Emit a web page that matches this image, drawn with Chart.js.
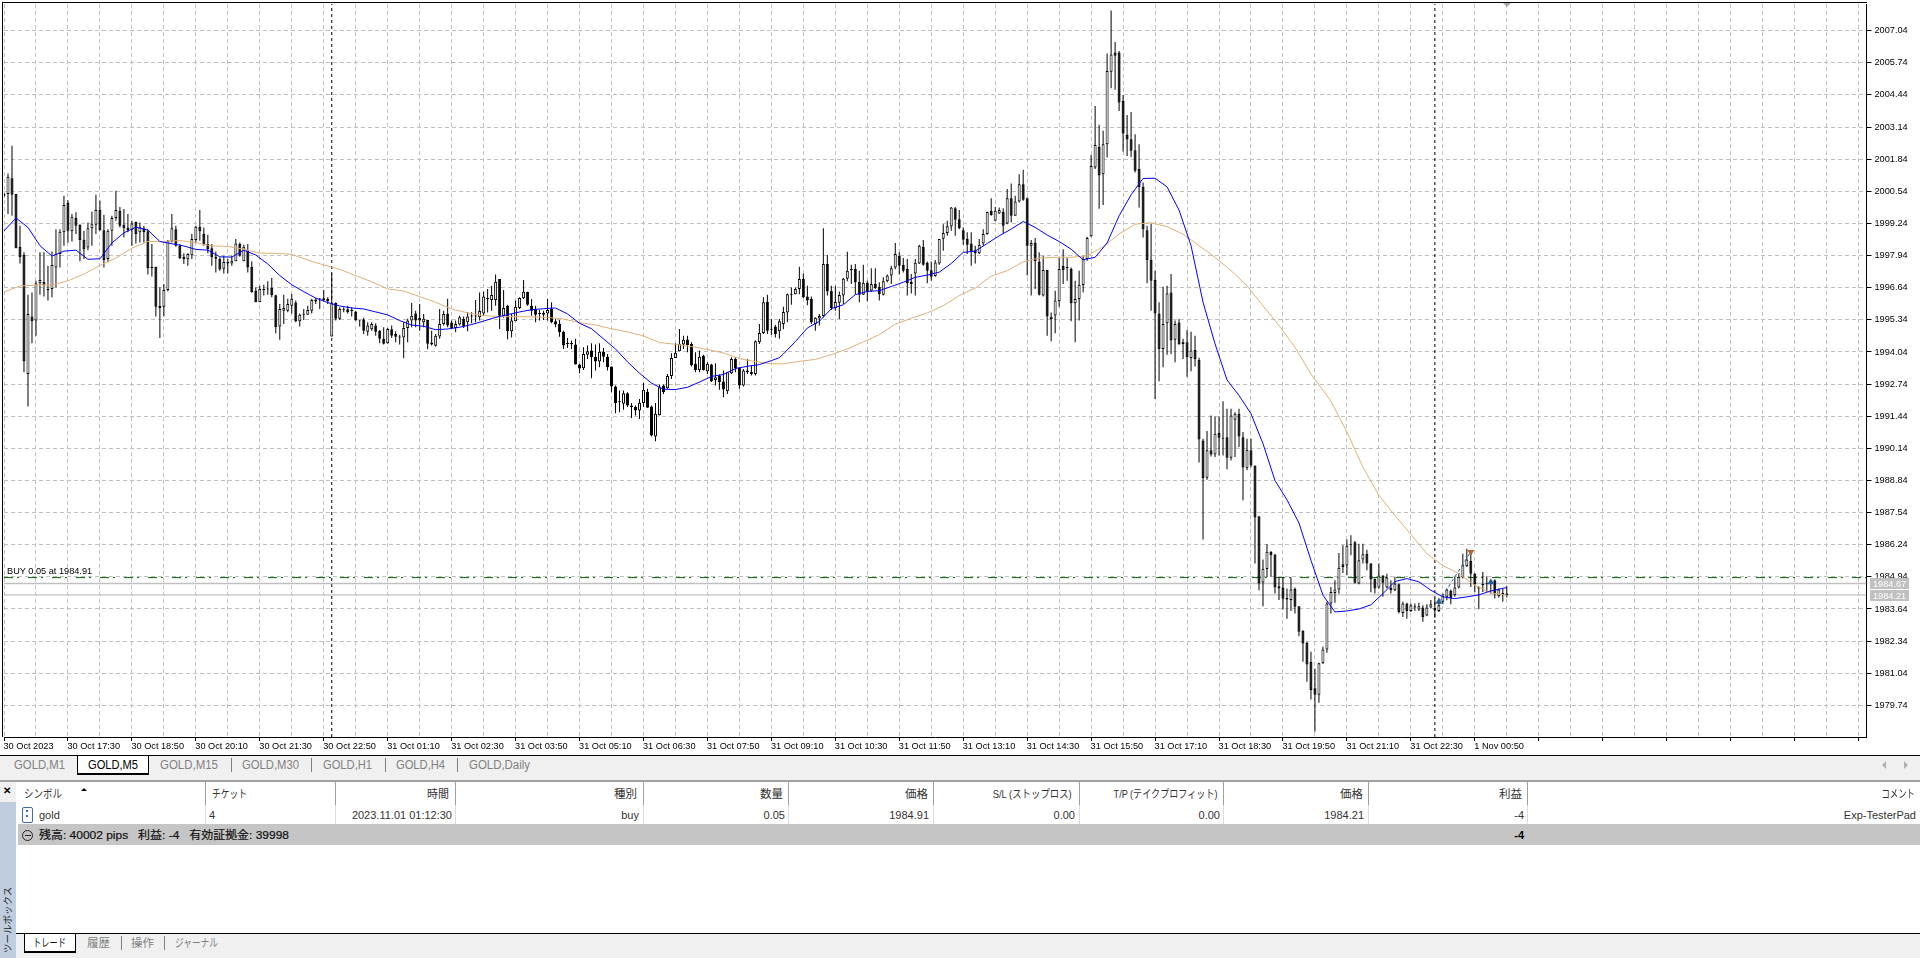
<!DOCTYPE html>
<html lang="ja">
<head>
<meta charset="utf-8">
<title>GOLD,M5</title>
<script src="https://cdn.jsdelivr.net/npm/chart.js@4/dist/chart.umd.min.js"></script>
<style>
html,body{margin:0;padding:0;background:#fff;width:1920px;height:958px;overflow:hidden;font-family:"Liberation Sans","Noto Sans CJK JP",sans-serif;}
#c{position:absolute;left:0;top:0;}
.a{position:absolute;white-space:nowrap;line-height:16px;}
.b{position:absolute;}
</style>
</head>
<body>
<canvas id="c" width="1920" height="755"></canvas>
<div id="ui"></div>
<script>
const opens=[
2000.43,2000.43,2001.07,2000.43,1998.30,1997.97,1993.15,1995.47,1995.31,1996.82,
1996.87,1996.57,1996.59,1997.46,1998.00,1998.88,2000.08,1998.92,1999.46,1999.19,
1998.58,1998.27,1999.05,1999.19,1999.78,1998.97,1997.80,1998.94,1999.46,1999.75,
1999.19,1999.08,1998.97,1999.30,1998.88,1999.05,1998.92,1997.49,1997.49,1995.82,
1995.87,1996.55,1998.51,1999.01,1998.33,1997.89,1997.79,1997.95,1998.57,1999.11,
1998.81,1998.41,1998.24,1997.89,1997.80,1997.41,1997.62,1997.62,1997.71,1998.41,
1997.71,1998.16,1997.49,1996.52,1996.05,1996.57,1996.60,1996.63,1996.33,1995.07,
1995.71,1995.71,1995.91,1996.04,1995.28,1995.55,1995.55,1995.71,1996.16,1996.19,
1996.21,1996.19,1994.67,1996.02,1995.38,1995.75,1995.77,1995.73,1995.67,1995.33,
1995.35,1994.86,1994.96,1995.11,1994.90,1994.57,1994.39,1994.96,1994.77,1994.66,
1994.63,1995.01,1995.31,1995.60,1995.42,1995.24,1995.33,1994.42,1994.29,1994.67,
1995.17,1995.59,1995.23,1995.01,1995.15,1995.38,1995.24,1995.50,1995.51,1995.44,
1995.60,1996.22,1996.14,1996.14,1996.99,1995.51,1995.91,1994.88,1995.28,1995.82,
1996.21,1996.48,1995.91,1995.77,1995.60,1995.63,1995.60,1995.78,1995.28,1995.17,
1994.86,1994.39,1994.40,1994.34,1993.53,1993.38,1993.93,1994.10,1993.85,1993.65,
1994.05,1993.85,1993.45,1992.64,1992.05,1991.94,1992.37,1991.87,1991.81,1991.67,
1991.97,1992.43,1991.83,1990.62,1991.48,1992.68,1992.57,1993.07,1993.80,1994.07,
1994.34,1994.54,1994.36,1993.56,1993.31,1993.89,1993.26,1993.53,1992.91,1993.09,
1992.84,1992.45,1993.18,1993.76,1993.39,1992.68,1993.29,1993.23,1993.15,1994.43,
1994.81,1996.07,1994.97,1995.07,1994.88,
1995.17,1995.64,1996.38,1996.38,1996.59,1996.99,1996.28,1996.18,1995.17,1995.39,
1995.50,1997.60,1996.52,1995.82,1996.03,1996.32,1997.00,1997.40,1997.40,1996.87,
1996.36,1996.84,1996.52,1996.79,1996.68,1996.36,1996.90,1997.13,1997.46,1997.93,
1997.57,1997.40,1996.79,1997.22,1997.62,1998.30,1997.64,1997.35,1997.11,1997.62,
1998.62,1998.85,1999.12,1999.86,1999.41,1998.97,1998.61,1998.43,1998.16,1998.03,
1998.43,1998.81,1999.75,1999.35,1999.64,1999.70,1999.24,2000.26,1999.55,2000.13,
2000.83,2000.26,1998.34,1998.45,1997.69,1996.32,1997.36,1995.37,1995.52,1996.09,
1997.52,1997.46,1997.40,1996.01,1996.18,1996.75,1997.80,1998.72,2001.50,2002.34,
2001.23,2002.45,2005.38,2006.16,2006.16,2004.20,2002.82,2002.65,2002.20,2001.44,
2000.72,1998.97,1997.76,1996.95,1995.60,1994.16,1995.20,1996.45,1994.53,1995.23,
1994.36,1994.43,1993.80,1994.12,1993.73,
1990.46,1988.95,1990.06,1989.89,1990.76,1990.57,1990.59,1989.76,1991.30,1991.54,
1990.59,1989.33,1990.06,1989.45,1987.39,1984.71,1985.26,1985.95,1985.83,1984.56,
1984.51,1984.08,1984.00,1984.45,1983.75,1982.76,1982.27,1981.49,1980.43,1980.17,
1981.44,1982.00,1983.86,1984.29,1984.43,1985.45,1985.40,1986.26,1986.34,1984.67,
1985.64,1985.88,1985.48,1984.86,1984.51,1984.99,1984.51,1984.51,1984.40,1984.64,
1983.48,1983.86,1983.56,1983.75,1983.62,1983.70,1983.38,1983.70,1983.68,1983.56,
1983.93,1984.13,1984.37,1984.20,1984.51,1984.91,1985.37,1985.58,1985.07,
1984.53,1984.64,1984.67,1984.72,1984.80,1984.16,1984.29,1984.27];
const highs=[
2000.49,2001.26,2002.38,2000.43,1999.15,1998.07,1996.36,1996.45,1996.92,1998.07,
1998.07,1997.53,1998.11,1999.01,1999.01,2000.36,2000.18,1999.62,1999.69,1999.21,
1998.94,1999.28,1999.71,2000.40,2000.16,1999.59,1999.01,1999.55,2000.56,1999.91,
1999.82,1999.62,1999.35,1999.32,1999.28,1999.15,1999.01,1998.41,1997.49,1996.66,
1996.79,1998.57,1999.62,1999.15,1998.41,1998.03,1998.03,1998.81,1999.15,1999.78,
1999.08,1998.78,1998.41,1998.11,1997.87,1997.93,1997.80,1997.93,1998.61,1998.47,
1998.38,1998.41,1997.71,1996.66,1996.72,1996.76,1996.90,1997.03,1996.36,1995.98,
1996.36,1996.19,1996.39,1996.12,1995.60,1995.78,1995.91,1996.19,1996.22,1996.22,
1996.55,1996.25,1997.22,1996.05,1995.85,1995.85,1995.91,1995.85,1995.71,1995.33,
1995.42,1995.24,1995.24,1995.20,1994.93,1995.04,1995.01,1995.11,1994.88,1994.74,
1995.24,1995.38,1996.02,1995.71,1995.98,1995.58,1995.33,1994.90,1994.77,1995.78,
1995.71,1996.19,1995.31,1995.31,1995.51,1995.47,1995.65,1995.65,1996.14,1996.45,
1996.49,1996.59,1996.72,1997.17,1996.99,1996.55,1995.95,1995.58,1996.12,1996.25,
1996.95,1996.48,1996.18,1995.91,1995.74,1995.71,1996.18,1996.05,1995.37,1995.33,
1994.90,1994.61,1994.50,1994.57,1993.56,1994.23,1994.30,1994.39,1994.34,1994.39,
1994.20,1993.96,1993.45,1992.68,1992.48,1992.48,1992.41,1991.97,1991.87,1992.14,
1992.79,1992.55,1991.87,1991.97,1992.72,1992.72,1993.15,1993.99,1994.39,1994.97,
1994.70,1994.70,1994.43,1994.03,1994.10,1993.93,1993.62,1993.56,1993.58,1993.13,
1993.29,1993.22,1993.83,1993.83,1993.42,1993.35,1993.76,1993.49,1994.50,1995.17,
1996.25,1996.36,1995.37,1995.13,1995.37,
1995.87,1996.41,1996.65,1996.65,1997.49,1997.22,1996.72,1996.28,1995.44,1995.58,
1999.05,1997.96,1996.72,1996.72,1996.49,1997.03,1998.10,1997.57,1997.60,1997.33,
1997.57,1996.92,1997.43,1997.43,1996.86,1997.06,1997.17,1997.53,1998.45,1998.07,
1997.84,1997.80,1997.19,1997.80,1998.38,1998.57,1997.70,1997.70,1997.76,1998.61,
1999.21,1999.35,1999.91,1999.91,1999.78,1999.08,1998.88,1998.88,1998.34,1998.61,
1999.01,1999.71,2000.26,1999.91,1999.89,1999.86,2000.63,2000.86,2000.36,2001.23,
2001.41,2000.29,1998.57,1998.65,1998.07,1997.93,1997.36,1995.64,1996.52,1997.84,
1998.20,1997.84,1997.46,1996.92,1997.33,1997.93,1998.70,2002.01,2003.99,2003.23,
2002.99,2006.12,2007.86,2006.58,2006.22,2004.44,2003.63,2003.75,2002.85,2002.45,
2000.90,1999.15,1999.24,1997.33,1996.05,1996.68,1996.72,1997.19,1995.31,1995.37,
1994.57,1994.93,1994.86,1994.70,1993.81,
1990.53,1990.84,1991.47,1991.43,1991.43,1992.05,1991.74,1991.74,1991.60,1991.74,
1990.80,1990.53,1990.53,1989.45,1987.39,1985.64,1986.26,1985.99,1985.88,1984.91,
1984.94,1984.47,1984.91,1984.51,1983.75,1982.78,1982.31,1981.91,1981.23,1981.46,
1982.11,1983.93,1984.53,1984.80,1985.91,1986.22,1986.45,1986.62,1986.39,1986.28,
1986.28,1986.04,1985.50,1984.87,1985.48,1985.00,1985.07,1984.80,1984.94,1984.67,
1983.93,1983.89,1983.86,1983.86,1983.89,1983.79,1983.83,1984.00,1984.06,1984.06,
1984.26,1984.47,1984.43,1984.94,1985.10,1985.88,1986.08,1985.91,1985.10,
1984.56,1985.14,1984.96,1984.80,1984.83,1984.47,1984.47,1984.56];
const lows=[
2000.29,1999.62,1999.55,1998.24,1997.62,1993.22,1991.83,1994.39,1994.70,1996.36,
1996.28,1996.12,1996.25,1996.66,1997.46,1998.34,1998.47,1998.51,1998.81,1997.71,
1997.80,1998.16,1998.34,1998.81,1998.94,1997.46,1997.67,1998.34,1999.35,1999.08,
1998.67,1998.88,1998.34,1998.43,1998.47,1998.47,1997.17,1997.09,1995.47,1994.61,
1995.47,1996.49,1998.47,1998.30,1997.80,1997.60,1997.53,1997.80,1998.47,1998.54,
1998.34,1998.03,1997.53,1997.26,1997.33,1997.22,1997.22,1997.53,1997.71,1997.89,
1997.71,1997.26,1996.44,1996.05,1996.05,1996.32,1996.36,1996.25,1994.80,1994.53,
1995.17,1995.65,1995.60,1995.24,1995.07,1995.33,1995.55,1995.60,1995.98,1995.78,
1996.09,1995.98,1994.67,1995.31,1995.33,1995.65,1995.60,1995.47,1995.31,1995.07,
1994.77,1994.70,1994.90,1994.70,1994.39,1994.34,1994.37,1994.61,1994.43,1994.34,
1993.79,1994.43,1995.04,1995.04,1994.90,1995.04,1994.15,1994.30,1994.26,1994.57,
1995.11,1995.04,1994.97,1994.84,1995.11,1995.01,1994.88,1995.20,1995.24,1995.31,
1995.51,1995.64,1995.71,1995.91,1994.97,1995.42,1994.55,1994.63,1995.28,1995.78,
1996.18,1995.91,1995.51,1995.24,1995.31,1995.33,1995.31,1995.20,1995.04,1994.66,
1994.16,1994.20,1994.16,1993.53,1993.18,1993.31,1993.76,1992.98,1993.29,1993.42,
1993.62,1993.29,1992.41,1991.56,1991.60,1991.70,1991.81,1991.37,1991.47,1991.33,
1991.81,1991.78,1990.62,1990.43,1991.47,1992.34,1992.55,1992.95,1993.80,1994.07,
1994.16,1994.03,1993.45,1993.22,1993.22,1993.29,1993.15,1992.82,1992.68,1992.51,
1992.21,1992.34,1993.15,1993.22,1992.55,1992.64,1993.15,1993.09,1993.09,1994.36,
1994.77,1994.77,1994.73,1994.63,1994.57,
1994.96,1995.24,1995.95,1996.38,1996.38,1996.22,1995.93,1995.17,1994.90,1995.11,
1995.44,1996.32,1995.74,1995.71,1995.37,1995.98,1996.90,1996.79,1996.36,1996.05,
1996.36,1996.09,1996.49,1996.59,1996.12,1996.32,1996.86,1996.79,1997.39,1997.17,
1997.26,1996.32,1996.41,1996.32,1997.60,1997.53,1996.82,1996.92,1997.08,1997.57,
1998.14,1998.74,1998.94,1998.74,1999.01,1998.38,1998.00,1997.53,1997.62,1998.00,
1998.34,1998.78,1999.55,1999.35,1999.62,1998.84,1999.21,1999.28,1999.55,2000.09,
2000.16,1997.13,1996.32,1996.59,1996.32,1996.28,1994.70,1994.47,1994.80,1995.87,
1996.79,1996.92,1995.28,1994.43,1995.31,1996.45,1997.73,1998.70,2001.44,1999.83,
1999.99,2001.91,2004.71,2004.65,2003.79,2002.15,2001.97,2001.93,2001.30,1999.89,
1998.67,1996.82,1995.71,1992.14,1992.86,1993.42,1993.93,1993.96,1993.62,1994.34,
1993.76,1993.04,1993.26,1993.45,1989.57,
1986.45,1988.87,1989.81,1989.79,1989.85,1989.85,1989.29,1989.65,1989.79,1990.19,
1988.04,1989.25,1989.38,1985.48,1984.40,1983.75,1984.94,1984.94,1984.27,1984.00,
1983.62,1983.24,1983.56,1983.46,1982.54,1981.50,1980.70,1979.98,1978.68,1979.85,
1981.41,1981.87,1983.46,1983.89,1984.26,1985.10,1985.00,1985.81,1984.67,1984.64,
1985.48,1985.21,1984.32,1984.27,1984.47,1984.13,1984.47,1984.27,1984.37,1983.46,
1983.32,1983.24,1983.52,1983.56,1983.56,1983.12,1983.35,1983.66,1983.29,1983.52,
1983.83,1983.99,1983.83,1984.13,1984.47,1984.87,1985.34,1984.53,1984.33,
1983.63,1984.33,1984.33,1984.26,1984.06,1984.10,1983.93,1984.10];
const closes=[
2000.36,2001.13,2000.40,1998.24,1997.87,1993.66,1995.58,1995.28,1996.82,1996.95,
1996.76,1996.55,1997.56,1998.00,1998.90,1999.99,1998.94,1999.51,1999.15,1998.57,
1998.20,1999.05,1999.21,1999.78,1998.97,1997.76,1998.94,1999.46,1999.78,1999.15,
1999.05,1998.97,1999.24,1998.81,1999.11,1998.88,1997.44,1997.44,1995.87,1995.90,
1996.55,1998.54,1999.05,1998.34,1997.84,1997.79,1998.00,1998.61,1999.11,1998.92,
1998.38,1998.20,1997.87,1997.81,1997.38,1997.68,1997.69,1997.73,1998.43,1997.93,
1998.30,1997.46,1996.47,1996.05,1996.59,1996.55,1996.57,1996.33,1995.04,1995.78,
1995.82,1995.98,1996.19,1995.28,1995.55,1995.53,1995.74,1996.14,1996.08,1996.16,
1996.14,1996.09,1996.01,1995.38,1995.78,1995.73,1995.65,1995.70,1995.31,1995.31,
1994.90,1995.11,1995.17,1994.86,1994.57,1994.37,1994.97,1994.70,1994.66,1994.63,
1995.01,1995.31,1995.51,1995.31,1995.31,1995.38,1994.37,1994.34,1994.70,1995.17,
1995.58,1995.11,1995.01,1995.17,1995.44,1995.07,1995.48,1995.47,1995.47,1995.70,
1996.28,1996.17,1996.34,1996.88,1995.51,1995.82,1994.88,1995.31,1995.87,1996.22,
1996.48,1995.95,1995.71,1995.55,1995.58,1995.55,1995.74,1995.24,1995.15,1994.84,
1994.30,1994.36,1994.35,1993.53,1993.37,1993.96,1994.07,1993.83,1993.65,1994.05,
1993.85,1993.42,1992.64,1991.97,1992.01,1992.37,1991.87,1991.81,1991.67,1991.99,
1992.51,1991.78,1990.66,1991.54,1992.61,1992.41,1993.07,1993.80,1994.01,1994.37,
1994.53,1994.32,1993.50,1993.31,1993.85,1993.31,1993.56,1992.86,1993.02,1992.82,
1992.52,1993.22,1993.76,1993.39,1992.68,1993.29,1993.22,1993.15,1994.47,1994.81,
1996.05,1994.90,1994.94,1994.77,1995.28,
1995.66,1996.38,1996.33,1996.59,1996.99,1996.25,1996.12,1995.24,1995.42,1995.50,
1997.60,1996.49,1995.82,1996.06,1996.34,1997.00,1997.33,1997.35,1996.86,1996.36,
1996.84,1996.49,1996.79,1996.63,1996.38,1996.90,1997.13,1997.43,1998.00,1997.53,
1997.33,1996.82,1996.87,1997.65,1998.34,1997.57,1997.33,1997.08,1997.66,1998.61,
1998.85,1999.13,1999.89,1999.39,1999.05,1998.58,1998.38,1998.11,1998.03,1998.38,
1998.81,1999.70,1999.58,1999.75,1999.78,1999.15,2000.26,1999.55,2000.13,2000.83,
2000.20,1998.34,1998.45,1997.71,1996.36,1997.36,1995.47,1995.46,1996.12,1997.40,
1997.36,1997.44,1996.01,1996.18,1996.76,1997.80,1998.65,2001.56,2002.41,2001.18,
2002.45,2005.41,2006.08,2006.03,2004.13,2002.88,2002.64,2002.18,2001.37,2000.72,
1999.01,1997.76,1996.92,1995.60,1994.16,1995.17,1996.41,1994.50,1995.17,1994.34,
1994.45,1993.83,1994.10,1993.76,1990.50,
1988.94,1990.06,1989.89,1990.73,1990.57,1990.53,1989.76,1991.47,1991.54,1990.62,
1989.36,1990.08,1989.45,1987.34,1984.67,1985.27,1985.96,1985.81,1984.51,1984.47,
1984.05,1984.02,1984.43,1983.73,1982.72,1982.24,1981.39,1980.36,1980.17,1981.44,
1982.00,1983.86,1984.33,1984.43,1985.31,1985.34,1986.20,1986.22,1984.70,1985.61,
1985.85,1985.48,1984.83,1984.47,1984.99,1984.70,1984.91,1984.40,1984.67,1983.52,
1983.86,1983.56,1983.79,1983.70,1983.75,1983.32,1983.70,1983.83,1983.59,1983.79,
1984.18,1984.43,1984.06,1984.51,1984.94,1985.41,1985.64,1985.07,1984.64,
1984.47,1984.61,1984.64,1984.67,1984.24,1984.43,1984.21,1984.21];

const fastMaBars=[0,3,6,9,12,15,18,21,24,27,30,33,36,39,42,45,48,51,54,57,60,63,66,69,72,75,78,81,84,87,90,93,96,99,102,105,108,111,114,117,
120,123,126,129,132,135,138,141,144,147,150,153,156,159,162,165,168,171,174,177,180,183,186,189,192,194,
195,198,201,204,207,210,213,216,219,222,225,228,231,234,237,240,243,246,249,252,255,258,261,264,267,270,273,276,279,282,285,288,291,294,297,300,303,306,309,
312,315,318,321,324,327,330,333,336,339,342,345,348,351,354,357,360,363,366,369,372,376];
const fastMa=[1998.94,1999.46,1999.08,1998.34,1997.92,1998.12,1998.16,1997.79,1997.81,1998.45,1998.86,1999.09,1998.97,1998.51,1998.42,1998.33,1998.19,1998.16,1997.89,1997.88,1998.16,1997.96,1997.60,1997.13,1996.76,1996.48,1996.22,1996.04,1995.90,1995.82,1995.78,1995.66,1995.54,1995.31,1995.13,1995.08,1994.94,1994.97,1995.04,1995.15,
1995.29,1995.44,1995.55,1995.66,1995.75,1995.79,1995.82,1995.58,1995.20,1994.98,1994.57,1994.16,1993.64,1993.18,1992.78,1992.53,1992.52,1992.61,1992.82,1993.05,1993.13,1993.37,1993.46,1993.53,1993.69,1993.81,
1993.96,1994.46,1995.01,1995.28,1995.79,1995.95,1996.36,1996.49,1996.52,1996.69,1996.86,1997.06,1997.15,1997.27,1997.62,1998.07,1998.12,1998.43,1998.74,1999.01,1999.32,1999.08,1998.77,1998.51,1998.20,1997.77,1997.87,1998.45,1999.55,2000.40,2001.06,2001.07,2000.72,1999.78,1998.34,1996.05,1994.37,1992.91,1992.28,
1991.54,1990.33,1988.84,1988.06,1987.12,1985.61,1984.20,1983.52,1983.56,1983.64,1983.81,1984.26,1984.75,1984.87,1984.74,1984.40,1984.13,1984.06,1984.13,1984.21,1984.37,1984.51];
const slowMaBars=[0,4,8,12,16,20,24,28,32,36,40,44,48,52,56,60,64,68,72,76,80,84,88,92,96,100,104,108,112,116,
120,124,128,132,136,140,144,148,152,156,160,164,168,172,176,180,184,188,192,194,
195,199,203,207,211,215,219,223,227,231,235,239,243,247,251,255,259,263,267,271,275,279,283,287,291,295,299,303,307,311,315,319,323,327,
332,336,340,344,348,352,356,360,364,368,372,376];
const slowMa=[1996.47,1996.71,1996.75,1996.75,1996.92,1997.19,1997.54,1997.84,1998.24,1998.51,1998.51,1998.55,1998.46,1998.33,1998.31,1998.19,1998.04,1998.03,1997.99,1997.76,1997.56,1997.38,1997.13,1996.88,1996.59,1996.51,1996.28,1996.05,1995.78,1995.62,
1995.51,1995.47,1995.47,1995.46,1995.44,1995.37,1995.23,1995.13,1994.98,1994.85,1994.69,1994.42,1994.35,1994.26,1994.14,1994.00,1993.77,1993.65,1993.56,1993.56,
1993.56,1993.66,1993.74,1993.93,1994.16,1994.45,1994.74,1995.17,1995.40,1995.62,1995.91,1996.32,1996.63,1997.11,1997.33,1997.69,1997.84,1997.87,1997.87,1997.93,1998.30,1998.81,1999.21,1999.27,1999.11,1998.81,1998.34,1997.87,1997.33,1996.72,1995.91,1995.11,1994.23,1993.15,
1992.05,1990.80,1989.38,1988.24,1987.43,1986.66,1985.88,1985.40,1985.07,1984.60,1984.29,1984.20];

const priceTicks=[2007.04,2005.74,2004.44,2003.14,2001.84,2000.54,1999.24,1997.94,1996.64,1995.34,1994.04,1992.74,1991.44,1990.14,1988.84,1987.54,1986.24,1984.94,1983.64,1982.34,1981.04,1979.74];
const timeLabels=["30 Oct 2023","30 Oct 17:30","30 Oct 18:50","30 Oct 20:10","30 Oct 21:30","30 Oct 22:50","31 Oct 01:10","31 Oct 02:30","31 Oct 03:50","31 Oct 05:10","31 Oct 06:30","31 Oct 07:50","31 Oct 09:10","31 Oct 10:30","31 Oct 11:50","31 Oct 13:10","31 Oct 14:30","31 Oct 15:50","31 Oct 17:10","31 Oct 18:30","31 Oct 19:50","31 Oct 21:10","31 Oct 22:30","1 Nov 00:50"];
const daySeparators=[82,358];
const orderPrice=1984.91, askPrice=1984.67, bidPrice=1984.21;
const buyArrows=[{x:359,y:1983.93},{x:372,y:1984.72}];
const closeArrow=[{x:367,y:1985.95}];
const tradeLine=[{x:359,y:1983.93},{x:367,y:1985.95}];

const Y_MIN=1978.46,Y_MAX=2008.12,X_MAX=466,LABEL_STEP=16,GRID_STEP=8;
const FONT='"Liberation Sans","Noto Sans CJK JP",sans-serif';
const bars=opens.map((_,i)=>i);
const wicks=bars.map(i=>({x:i,y:[lows[i],highs[i]]}));
const bodies=bars.map(i=>({x:i,y:[Math.min(opens[i],closes[i]),Math.max(opens[i],closes[i])]}));
const line=(data,o)=>Object.assign({type:'line',data,pointRadius:0,borderWidth:1,tension:0,fill:false,borderCapStyle:'butt'},o);
const hline=(p,o)=>line([{x:0,y:p},{x:X_MAX,y:p}],o);

const xTicks=[];
for(let v=0;v<=X_MAX;v++){ if(v%GRID_STEP===0||v%LABEL_STEP===0) xTicks.push(v); }

new Chart(document.getElementById('c'),{
  type:'bar',
  data:{datasets:[
    {type:'bar',data:wicks,barThickness:1,backgroundColor:'#000',borderWidth:0,grouped:false,inflateAmount:0,order:5},
    {type:'bar',data:bodies,barThickness:3,grouped:false,borderWidth:1,borderColor:'#000',borderSkipped:false,minBarLength:1,inflateAmount:0,order:4,
      backgroundColor:c=>closes[c.dataIndex]>=opens[c.dataIndex]?'#fff':'#000'},
    line(slowMa.map((y,i)=>({x:slowMaBars[i],y})),{borderColor:'#e0b077',order:3}),
    line(fastMa.map((y,i)=>({x:fastMaBars[i],y})),{borderColor:'#0000ff',order:2}),
    hline(askPrice,{borderColor:'#c0c0c0',borderWidth:1.4,order:6}),
    hline(bidPrice,{borderColor:'#c0c0c0',borderWidth:1.4,order:6}),
    hline(orderPrice,{borderColor:'#006400',borderDash:[9,4,2,9],order:6}),
    line([{x:daySeparators[0],y:Y_MIN},{x:daySeparators[0],y:Y_MAX}],{borderColor:'#000',borderDash:[3,3],order:6}),
    line([{x:daySeparators[1],y:Y_MIN},{x:daySeparators[1],y:Y_MAX}],{borderColor:'#000',borderDash:[3,3],order:6}),
    line(tradeLine,{borderColor:'#1f5fa0',borderDash:[3,3],order:1}),
    line(buyArrows,{showLine:false,pointRadius:4,pointStyle:'triangle',pointBackgroundColor:'#1f5fa0',pointBorderColor:'#1f5fa0',pointBorderWidth:0,order:0}),
    line(closeArrow,{showLine:false,pointRadius:4,pointStyle:'triangle',pointRotation:180,pointBackgroundColor:'#b5632d',pointBorderColor:'#b5632d',pointBorderWidth:0,order:0})
  ]},
  options:{
    responsive:false,animation:false,events:[],
    layout:{padding:{left:2.5,top:3,right:0,bottom:0}},
    plugins:{legend:{display:false},tooltip:{enabled:false},title:{display:false}},
    scales:{
      x:{type:'linear',min:0,max:X_MAX,offset:false,position:'bottom',
        afterBuildTicks:s=>{s.ticks=xTicks.map(v=>({value:v}));},
        afterFit:s=>{s.height=18;s.paddingLeft=0;s.paddingRight=0;},
        grid:{offset:false,color:c=>c.tick&&c.tick.value%GRID_STEP===0?'#c0c0c0':'rgba(0,0,0,0)',lineWidth:1,tickLength:4,tickBorderDash:[],
          tickColor:c=>c.tick&&c.tick.value%LABEL_STEP===0?'#000':'rgba(0,0,0,0)',drawTicks:true},
        border:{color:'#000',width:1,dash:[4,3]},
        ticks:{autoSkip:false,maxRotation:0,minRotation:0,align:'start',padding:0,labelOffset:-0.5,color:'#000',font:{family:FONT,size:9.2},
          callback:v=>v%LABEL_STEP===0?(timeLabels[v/LABEL_STEP]||''):''}},
      y:{type:'linear',position:'right',min:Y_MIN,max:Y_MAX,beginAtZero:false,
        afterBuildTicks:s=>{s.ticks=priceTicks.map(v=>({value:v}));},
        afterFit:s=>{s.width=53.5;s.paddingTop=0;s.paddingBottom=0;},
        grid:{color:'#c0c0c0',lineWidth:1,tickLength:5,tickColor:'#000',tickBorderDash:[]},
        border:{color:'#000',width:1,dash:[4,3]},
        ticks:{autoSkip:false,padding:3,color:'#000',font:{family:FONT,size:9.2},callback:v=>v.toFixed(2)}}
    }
  }
});

/* terminal panels */
const ui=document.getElementById('ui');
function box(l,t,w,h,css){const d=document.createElement('div');d.className='b';d.style.cssText=`left:${l}px;top:${t}px;width:${w}px;height:${h}px;${css||''}`;ui.appendChild(d);return d;}
function txt(s,o){const d=document.createElement('div');d.className='a';d.textContent=s;
  let css=`top:${o.y-8}px;font-size:${o.size||11}px;color:${o.color||'#222'};`;
  css+=o.r!==undefined?`right:${1920-o.r}px;`:`left:${o.l}px;`;
  if(o.bold)css+='font-weight:bold;';
  if(o.css)css+=o.css;
  d.style.cssText=css;ui.appendChild(d);
  if(o.w){const m=d.getBoundingClientRect().width;d.style.transform=`scaleX(${o.w/m})`;d.style.transformOrigin=o.r!==undefined?'right center':'left center';}
  return d;}
function tri(l,t,dir,size,color){const s=size+'px solid transparent',c=size+'px solid '+color;
  const css={up:`border-left:${s};border-right:${s};border-bottom:${c};`,down:`border-left:${s};border-right:${s};border-top:${c};`,left:`border-top:${s};border-bottom:${s};border-right:${c};`,right:`border-top:${s};border-bottom:${s};border-left:${c};`}[dir];
  return box(l,t,0,0,css);}

/* frame of the plot */
box(2,2,1865,1,'background:#000');
box(2,2,1,735,'background:#000');
tri(1503,3,'down',4,'#a8a8a8');
txt('BUY 0.05 at 1984.91',{l:7,y:571,size:9.2,color:'#000'});
box(1870,578,39,11,'background:#c0c0c0');
box(1870,590,39,11,'background:#c0c0c0');
txt('1984.67',{l:1873,y:583.5,size:9.2,color:'#fff'});
txt('1984.21',{l:1873,y:595.5,size:9.2,color:'#fff'});

/* chart tab strip */
box(0,755,1920,26,'background:#f0f0f0;border-top:1px solid #000;box-sizing:border-box');
box(77,755,72,20,'background:#fff;border:1px solid #000;border-top:1px solid #000;border-bottom:2px solid #000;box-sizing:border-box');
const chartTabs=[['GOLD,M1',14,51],['GOLD,M5',88,50],['GOLD,M15',160,58],['GOLD,M30',242,57],['GOLD,H1',323,49],['GOLD,H4',396,49],['GOLD,Daily',469,61]];
chartTabs.forEach((t,i)=>txt(t[0],{l:t[1],y:765,size:12,w:t[2],color:i===1?'#000':'#808080'}));
[231,311,385,457].forEach(x=>box(x,758,1,14,'background:#808080'));
tri(1882,761,'left',4,'#b0b0b0');
tri(1904,761,'right',4,'#b0b0b0');

/* toolbox */
box(0,780,1920,2,'background:#a0a0a0');
box(0,782,16,176,'background:#bfcddf');
box(0,782,16,20,'background:#f0f0f0');
txt('✕',{l:3,y:791,size:10,color:'#000',bold:true});
txt('ツールボックス',{l:0,y:0,size:9.5,color:'#222',css:'top:953px;left:0;line-height:16px;transform:rotate(-90deg);transform-origin:left top;'});

const sepHeader=[205,335,455,643,788,933,1079,1223,1368,1527];
sepHeader.forEach(x=>{box(x,782,1,23,'background:#a0a0a0');box(x,805,1,19,'background:#dcdcdc');});
const headers=[['シンボル',{l:24,w:38}],['チケット',{l:212,w:35}],['時間',{r:449,w:22}],['種別',{r:637,w:23}],['数量',{r:783,w:23}],['価格',{r:928,w:23}],['S/L (ストップロス)',{r:1072,w:79}],['T/P (テイクプロフィット)',{r:1218,w:104}],['価格',{r:1363,w:23}],['利益',{r:1522,w:23}],['コメント',{r:1915,w:33.5}]];
headers.forEach(h=>txt(h[0],Object.assign({y:794,size:11.5,color:'#333'},h[1])));
tri(81,788,'up',3,'#000');
box(22,807,9,14,'border:1px solid #3b6ea8;border-radius:2px;background:#fff');
box(26,810,2,2,'background:#3b6ea8');
box(26,815,2,2,'background:#3b6ea8');
const tradeRow=[['gold',{l:39}],['4',{l:209}],['2023.11.01 01:12:30',{r:452}],['buy',{r:639}],['0.05',{r:785}],['1984.91',{r:929}],['0.00',{r:1075}],['0.00',{r:1220}],['1984.21',{r:1364}],['-4',{r:1524}],['Exp-TesterPad',{r:1916}]];
tradeRow.forEach(h=>txt(h[0],Object.assign({y:815,size:11,color:'#333'},h[1])));
box(18,824,1902,21,'background:#c5c5c5');
box(22,830,11,11,'border:1px solid #222;border-radius:50%;box-sizing:border-box');
box(24.5,835,6,1,'background:#222');
txt('残高: 40002 pips   利益: -4   有効証拠金: 39998',{l:39,y:835,size:11.5,w:250,color:'#111',css:'white-space:pre;-webkit-text-stroke:0.2px #111;'});
txt('-4',{r:1524,y:835,size:11,color:'#000',bold:true});

/* toolbox tabs */
box(16,933,1904,25,'background:#f0f0f0;border-top:1px solid #000;box-sizing:border-box');
box(24,933,52,20,'background:#fff;border:1px solid #000;border-bottom:2px solid #000;box-sizing:border-box');
[['トレード',33,'#111',33],['履歴',87,'#808080',23],['操作',131,'#808080',23],['ジャーナル',175,'#808080',43]].forEach(t=>txt(t[0],{l:t[1],y:943,size:11.5,w:t[3],color:t[2]}));
[121,164].forEach(x=>box(x,936,1,14,'background:#808080'));
</script>
</body>
</html>
